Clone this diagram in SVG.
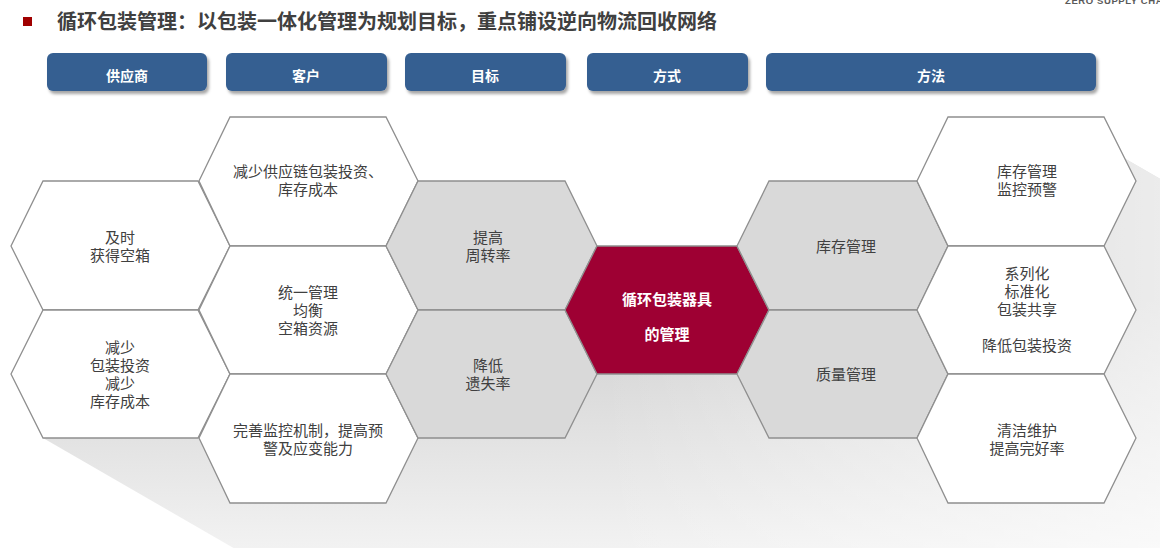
<svg xmlns="http://www.w3.org/2000/svg" width="1160" height="548" viewBox="0 0 1160 548">
<defs>
<linearGradient id="shV" gradientUnits="userSpaceOnUse" x1="0" y1="300" x2="0" y2="548">
<stop offset="0" stop-color="#cfcfcf"/><stop offset="1" stop-color="#f2f2f2"/>
</linearGradient>
<linearGradient id="shH" gradientUnits="userSpaceOnUse" x1="600" y1="0" x2="1160" y2="0">
<stop offset="0" stop-color="#ffffff" stop-opacity="0"/><stop offset="1" stop-color="#ffffff" stop-opacity="0.6"/>
</linearGradient>
<filter id="ds" x="-10%" y="-30%" width="130%" height="180%">
<feDropShadow dx="2" dy="3" stdDeviation="1.5" flood-color="#000" flood-opacity="0.35"/>
</filter>
</defs>
<style>
.hdr{fill:#365f91;filter:url(#ds)}
.ht{font-family:"Noto Sans CJK SC","Liberation Sans",sans-serif;font-size:14px;font-weight:bold;fill:#ffffff;text-anchor:middle}
.hw{fill:#ffffff;stroke:#8f8f8f;stroke-width:1.3}
.hg{fill:#d9d9d9;stroke:#8f8f8f;stroke-width:1.3}
.hc{fill:#9e0033;stroke:#8f8f8f;stroke-width:1.3}
.t{font-family:"Noto Sans CJK SC","Liberation Sans",sans-serif;font-size:15px;fill:#404040;text-anchor:middle}
.tc{font-family:"Noto Sans CJK SC","Liberation Sans",sans-serif;font-size:15px;font-weight:bold;fill:#ffffff;text-anchor:middle}
</style>
<rect width="1160" height="548" fill="#ffffff"/>
<g id="title">
<rect x="23" y="17" width="9" height="9" fill="#a00000"/>
<text x="57" y="29" font-family="'Noto Sans CJK SC','Liberation Sans',sans-serif" font-size="20" font-weight="bold" fill="#404040">循环包装管理：以包装一体化管理为规划目标，重点铺设逆向物流回收网络</text>
<text x="1065" y="4" font-family="'Liberation Sans',sans-serif" font-size="9.5" font-weight="bold" fill="#5a5a5a" letter-spacing="0.6">ZERO SUPPLY CHAI</text>
</g>
<g id="shadow">
<polygon points="1124,158 43,438 909,938 1800,938 1800,548" fill="url(#shV)"/>
<polygon points="1124,158 43,438 909,938 1800,938 1800,548" fill="url(#shH)"/>
</g>
<g id="headers">
<g id="h-supplier"><rect class="hdr" x="47" y="53" width="160" height="38" rx="6"/><text class="ht" x="127" y="81">供应商</text></g>
<g id="h-customer"><rect class="hdr" x="226" y="53" width="161" height="38" rx="6"/><text class="ht" x="306" y="81">客户</text></g>
<g id="h-goal"><rect class="hdr" x="405" y="53" width="161" height="38" rx="6"/><text class="ht" x="485" y="81">目标</text></g>
<g id="h-mode"><rect class="hdr" x="587" y="53" width="161" height="38" rx="6"/><text class="ht" x="667" y="81">方式</text></g>
<g id="h-method"><rect class="hdr" x="766" y="53" width="330" height="38" rx="6"/><text class="ht" x="931" y="81">方法</text></g>
</g>
<g id="connectors"></g>
<g id="c1h1"><polygon class="hw" points="11,246 43,181 198,181 230,246 198,310 43,310"/><text class="t" x="120" y="242.5">及时</text><text class="t" x="120" y="260.5">获得空箱</text></g>
<g id="c1h2"><polygon class="hw" points="11,374 43,310 198,310 230,374 198,438 43,438"/><text class="t" x="120" y="352.5">减少</text><text class="t" x="120" y="370.5">包装投资</text><text class="t" x="120" y="388.5">减少</text><text class="t" x="120" y="406.5">库存成本</text></g>
<g id="c2h1"><polygon class="hw" points="199,181 230,117 386,117 418,181 386,246 230,246"/><text class="t" x="308" y="177">减少供应链包装投资、</text><text class="t" x="308" y="195">库存成本</text></g>
<g id="c2h2"><polygon class="hw" points="199,310 230,246 386,246 418,310 386,374 230,374"/><text class="t" x="308" y="297.5">统一管理</text><text class="t" x="308" y="315.5">均衡</text><text class="t" x="308" y="333.5">空箱资源</text></g>
<g id="c2h3"><polygon class="hw" points="199,438 230,374 386,374 418,438 386,503 230,503"/><text class="t" x="308" y="435.5">完善监控机制，提高预</text><text class="t" x="308" y="453.5">警及应变能力</text></g>
<g id="c3h1"><polygon class="hg" points="386,246 418,181 565,181 597,246 565,310 418,310"/><text class="t" x="488" y="242.5">提高</text><text class="t" x="488" y="260.5">周转率</text></g>
<g id="c3h2"><polygon class="hg" points="386,374 418,310 565,310 597,374 565,438 418,438"/><text class="t" x="488" y="370.5">降低</text><text class="t" x="488" y="388.5">遗失率</text></g>
<g id="center"><polygon class="hc" points="565,310 597,246 737,246 769,310 737,374 597,374"/><text class="tc" x="667" y="305">循环包装器具</text><text class="tc" x="667" y="340">的管理</text></g>
<g id="c4h1"><polygon class="hg" points="737,246 769,181 917,181 948,246 917,310 769,310"/><text class="t" x="846" y="251.5">库存管理</text></g>
<g id="c4h2"><polygon class="hg" points="737,374 769,310 917,310 948,374 917,438 769,438"/><text class="t" x="846" y="379.5">质量管理</text></g>
<g id="c5h1"><polygon class="hw" points="917,181 948,117 1104,117 1136,181 1104,246 948,246"/><text class="t" x="1027" y="176.5">库存管理</text><text class="t" x="1027" y="194.5">监控预警</text></g>
<g id="c5h2"><polygon class="hw" points="917,310 948,246 1104,246 1136,310 1104,374 948,374"/><text class="t" x="1027" y="279">系列化</text><text class="t" x="1027" y="297">标准化</text><text class="t" x="1027" y="315">包装共享</text><text class="t" x="1027" y="351">降低包装投资</text></g>
<g id="c5h3"><polygon class="hw" points="917,438 948,374 1104,374 1136,438 1104,503 948,503"/><text class="t" x="1027" y="435.5">清洁维护</text><text class="t" x="1027" y="453.5">提高完好率</text></g>
</svg>
